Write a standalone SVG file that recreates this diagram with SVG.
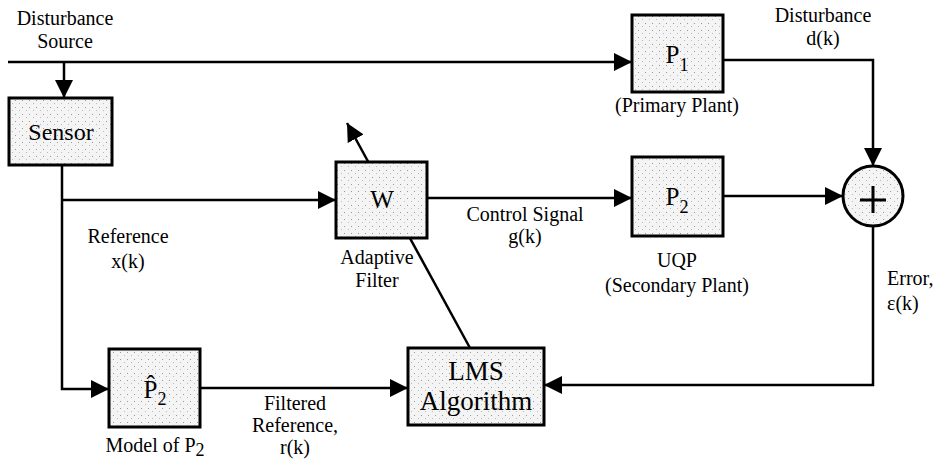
<svg xmlns="http://www.w3.org/2000/svg" width="937" height="461" viewBox="0 0 937 461">
<defs>
<marker id="arr" markerUnits="userSpaceOnUse" markerWidth="18" markerHeight="18" refX="18" refY="9" orient="auto">
<path d="M0,0 L18,9 L0,18 z" fill="#000"/>
</marker>
<pattern id="stip" width="7" height="7" patternUnits="userSpaceOnUse">
<rect width="7" height="7" fill="#f4f4f4"/>
<rect x="1" y="2" width="1" height="1" fill="#999"/>
<rect x="5" y="5" width="1" height="1" fill="#bbb"/>
</pattern>
</defs>
<style>
.box{fill:url(#stip);stroke:#000;stroke-width:3}
.ln{fill:none;stroke:#000;stroke-width:2.5}
.lab{font-family:"Liberation Serif","Times New Roman",serif;font-size:20px;fill:#000;text-anchor:middle}
.big{font-family:"Liberation Serif","Times New Roman",serif;font-size:25px;fill:#000;text-anchor:middle}
.sub{font-size:18px}
</style>
<rect width="937" height="461" fill="#fff"/>
<g id="connectors">
<path class="ln" d="M8,62 H632" marker-end="url(#arr)"/>
<path class="ln" d="M64,62 V98" marker-end="url(#arr)"/>
<path class="ln" d="M62,165 V389 H109" marker-end="url(#arr)"/>
<path class="ln" d="M62,200 H336" marker-end="url(#arr)"/>
<path class="ln" d="M427,198 H632" marker-end="url(#arr)"/>
<path class="ln" d="M723,196 H843" marker-end="url(#arr)"/>
<path class="ln" d="M723,60 H873 V166" marker-end="url(#arr)"/>
<path class="ln" d="M873,226 V385 H544" marker-end="url(#arr)"/>
<path class="ln" d="M200,388 H408" marker-end="url(#arr)"/>
<path class="ln" d="M470,348 L347,123" marker-end="url(#arr)"/>
</g>
<g id="disturbance-source">
<text class="lab" x="65" y="25">Disturbance</text>
<text class="lab" x="65" y="48">Source</text>
</g>
<g id="sensor">
<rect class="box" x="9" y="98" width="103" height="67"/>
<text class="big" x="61" y="140" style="font-size:24px">Sensor</text>
</g>
<g id="reference-label">
<text class="lab" x="128" y="243">Reference</text>
<text class="lab" x="128" y="268">x(k)</text>
</g>
<g id="W">
<rect class="box" x="336" y="162" width="91" height="76"/>
<text class="big" x="382" y="208">W</text>
<text class="lab" x="377" y="264">Adaptive</text>
<text class="lab" x="377" y="287">Filter</text>
</g>
<g id="control-label">
<text class="lab" x="525" y="221">Control Signal</text>
<text class="lab" x="525" y="243">g(k)</text>
</g>
<g id="P1">
<rect class="box" x="632" y="15" width="91" height="77"/>
<text class="big" x="677" y="63">P<tspan class="sub" dy="8">1</tspan></text>
<text class="lab" x="677" y="112">(Primary Plant)</text>
</g>
<g id="disturbance-label">
<text class="lab" x="823" y="22">Disturbance</text>
<text class="lab" x="823" y="45">d(k)</text>
</g>
<g id="P2">
<rect class="box" x="632" y="157" width="91" height="79"/>
<text class="big" x="677" y="205">P<tspan class="sub" dy="8">2</tspan></text>
<text class="lab" x="677" y="267">UQP</text>
<text class="lab" x="677" y="292">(Secondary Plant)</text>
</g>
<g id="sum">
<circle cx="873" cy="196" r="30" fill="url(#stip)" stroke="#000" stroke-width="3"/>
<path d="M873,186 V213 M860,200 H886" stroke="#000" stroke-width="3"/>
</g>
<g id="error-label">
<text class="lab" x="887" y="285" style="text-anchor:start">Error,</text>
<text class="lab" x="887" y="310" style="text-anchor:start">ε(k)</text>
</g>
<g id="P2hat">
<rect class="box" x="109" y="349" width="91" height="78"/>
<text class="big" x="155" y="398">P̂<tspan class="sub" dy="7">2</tspan></text>
<text class="lab" x="155" y="452">Model of P<tspan class="sub" dy="4">2</tspan></text>
</g>
<g id="filtered-label">
<text class="lab" x="295" y="410">Filtered</text>
<text class="lab" x="295" y="432">Reference,</text>
<text class="lab" x="295" y="454">r(k)</text>
</g>
<g id="LMS">
<rect class="box" x="408" y="348" width="136" height="77"/>
<text class="big" x="476" y="380" style="font-size:27px">LMS</text>
<text class="big" x="476" y="410" style="font-size:27px">Algorithm</text>
</g>
</svg>
